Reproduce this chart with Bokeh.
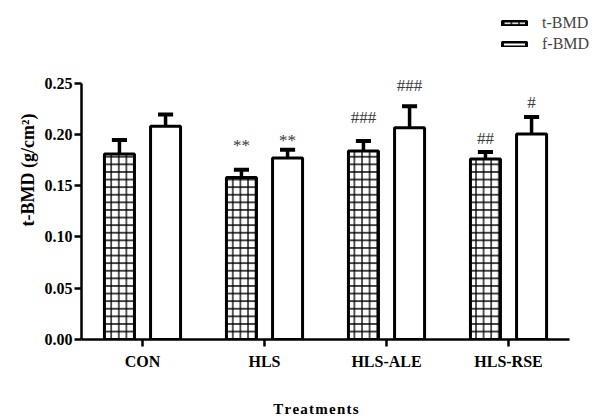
from bokeh.plotting import figure
from bokeh.models import (ColumnDataSource, FixedTicker, Range1d, Legend, LegendItem,
                          LabelSet, NumeralTickFormatter)
from bokeh.embed import file_html
from bokeh.resources import INLINE
import numpy as np

categories = ["CON", "HLS", "HLS-ALE", "HLS-RSE"]
t_bmd = [0.181, 0.158, 0.184, 0.176]
t_err = [0.0135, 0.0075, 0.0096, 0.0070]
f_bmd = [0.208, 0.177, 0.2065, 0.2005]
f_err = [0.0115, 0.0080, 0.0211, 0.0165]
t_marks = ["", "**", "###", "##"]
f_marks = ["", "**", "###", "#"]
# heights (g/cm2) at which the significance marks sit
t_mark_y = [0.0, 0.189, 0.217, 0.196]
f_mark_y = [0.0, 0.194, 0.248, 0.231]
y_ticks = [0.0, 0.05, 0.10, 0.15, 0.20, 0.25]

SERIF = "Liberation Serif"
idx = np.arange(len(categories)) + 0.5
off = 0.189
bw = 0.246
cap = 0.062

# frame spans the whole top/right of the canvas so the legend is not clipped;
# axis lines are bounded to the data area
p = figure(width=595, height=419, output_backend="svg", toolbar_location=None,
           x_range=Range1d(0, 4.213), y_range=Range1d(0, 0.3307),
           min_border_left=81, min_border_right=0, min_border_top=0, min_border_bottom=79)
p.outline_line_color = None
p.grid.visible = False
p.background_fill_color = "white"

def series(vals, errs, marks, mys, shift):
    xs = idx + shift
    top = np.array(vals) + np.array(errs)
    return ColumnDataSource(dict(x=xs, top=vals, up=top, x0=xs - cap, x1=xs + cap,
                                 mark=marks, ly=mys))

ts = series(t_bmd, t_err, t_marks, t_mark_y, -off)
fs = series(f_bmd, f_err, f_marks, f_mark_y, off)

for src in (ts, fs):
    p.segment(x0="x", y0="top", x1="x", y1="up", source=src, line_width=3.5, line_color="black")
    p.segment(x0="x0", y0="up", x1="x1", y1="up", source=src, line_width=4, line_color="black")

rt = p.vbar(x="x", top="top", width=bw, source=ts, fill_color="white", line_color="black",
            line_width=3, hatch_pattern="+", hatch_scale=7.6, hatch_weight=1.3, hatch_color="black")
rf = p.vbar(x="x", top="top", width=bw, source=fs, fill_color="white", line_color="black",
            line_width=3)

for src in (ts, fs):
    p.add_layout(LabelSet(x="x", y="ly", text="mark", source=src, text_align="center",
                          text_baseline="middle", text_font=SERIF, text_font_size="17px",
                          text_color="#3a3a3a"))

# axes
p.yaxis.ticker = FixedTicker(ticks=y_ticks)
p.yaxis.formatter = NumeralTickFormatter(format="0.00")
p.yaxis.bounds = (0, 0.25)
p.xaxis.ticker = FixedTicker(ticks=list(idx))
p.xaxis.major_label_overrides = {float(v): c for v, c in zip(idx, categories)}
p.xaxis.bounds = (0, 4)
for ax in (p.xaxis, p.yaxis):
    ax.axis_line_width = 2.5
    ax.major_tick_line_width = 2.5
    ax.major_tick_out = 7
    ax.major_tick_in = 0
    ax.minor_tick_line_color = None
    ax.major_label_text_font = SERIF
    ax.major_label_text_font_style = "bold"
    ax.major_label_text_font_size = "16px"
    ax.major_label_text_color = "black"
    ax.axis_label_text_font = SERIF
    ax.axis_label_text_font_style = "bold"
    ax.axis_label_text_color = "black"
p.xaxis.major_label_standoff = 6
p.xaxis.axis_label = "\u200a".join("Treatments") + "\u2003\u2003\u2003"
p.xaxis.axis_label_text_font_size = "15px"
p.xaxis.axis_label_standoff = 28
p.yaxis.major_label_standoff = 2
p.yaxis.axis_label = "t-BMD (g/cm\u00b2)"
p.yaxis.axis_label_text_font_size = "18px"
p.yaxis.axis_label_standoff = 4

legend = Legend(items=[LegendItem(label="t-BMD", renderers=[rt]),
                       LegendItem(label="f-BMD", renderers=[rf])],
                location=(418, 286), orientation="vertical",
                glyph_width=30, glyph_height=6, label_height=17, label_standoff=13,
                label_text_font=SERIF, label_text_font_size="16px", spacing=3, padding=0,
                margin=0, background_fill_alpha=0, border_line_color=None)
p.add_layout(legend, "center")

open("out.html", "w").write(file_html(p, INLINE))
